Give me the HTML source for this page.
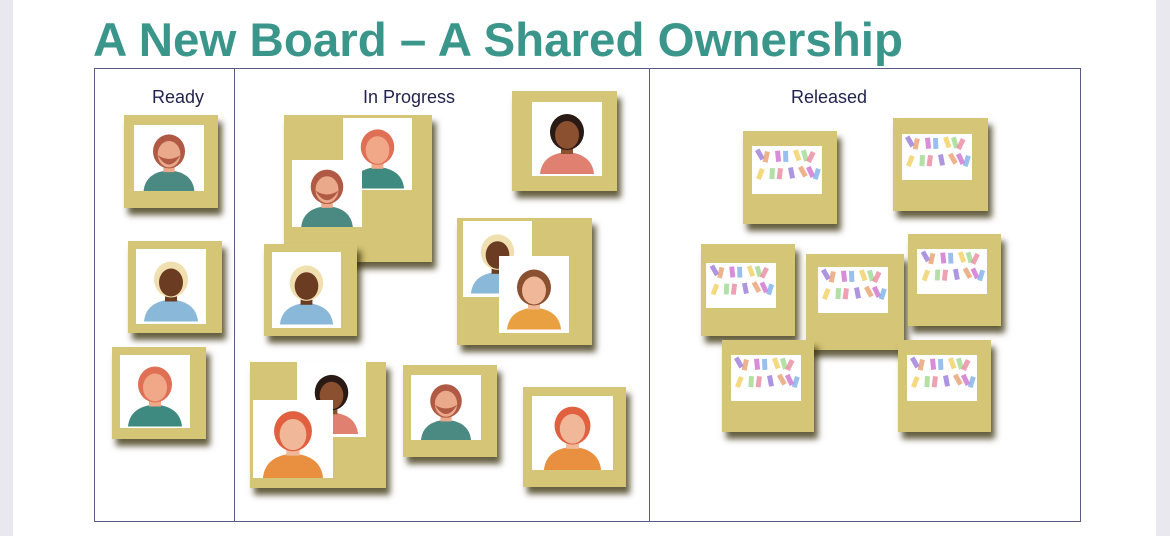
<!DOCTYPE html>
<html><head><meta charset="utf-8"><style>
body{margin:0;width:1170px;height:536px;position:relative;overflow:hidden;background:#fff;font-family:"Liberation Sans",sans-serif}
.strip{position:absolute;top:0;height:536px;background:#e9e8ee}
.board{position:absolute;left:94px;top:68px;width:987px;height:454px;border:1px solid #5a5a85;box-sizing:border-box}
.div{position:absolute;top:68px;width:1px;height:454px;background:#5a5a85}
.hdr{position:absolute;top:87px;font-size:18px;color:#23234f;transform:translateX(-50%)}
.note{position:absolute;background:#d5c576;box-shadow:4px 7px 6px rgba(50,40,0,.75)}
.photo{position:absolute;background:#fff;overflow:hidden}
.photo svg{width:100%;height:100%;display:block}
</style></head><body>
<div class="strip" style="left:0;width:13px"></div>
<div class="strip" style="left:1156px;width:14px"></div>
<svg style="position:absolute;left:0;top:0" width="1170" height="68"><text x="93" y="56" font-family="Liberation Sans" font-weight="bold" font-size="47" fill="#3a968a" textLength="810" lengthAdjust="spacingAndGlyphs">A New Board – A Shared Ownership</text></svg>
<div class="board"></div>
<div class="div" style="left:234px"></div>
<div class="div" style="left:649px"></div>
<div class="hdr" style="left:178px">Ready</div>
<div class="hdr" style="left:409px">In Progress</div>
<div class="hdr" style="left:829px">Released</div>
<div id="notes"></div>
<script>
const notes=[
 [124,115,94,93,[[134,125,70,66,'a']]],
 [128,241,94,92,[[136,249,70,75,'b']]],
 [112,347,94,92,[[120,355,70,73,'c']]],
 [284,115,148,147,[[343,118,69,72,'c'],[292,160,70,67,'a']]],
 [512,91,105,100,[[532,102,70,74,'d']]],
 [264,244,93,92,[[272,252,69,76,'b']]],
 [457,218,135,127,[[463,221,69,76,'b'],[499,256,70,77,'e']]],
 [250,362,136,126,[[297,362,69,75,'d'],[253,400,80,78,'f']]],
 [403,365,94,92,[[411,375,70,65,'a']]],
 [523,387,103,100,[[532,396,81,74,'f']]],
 [743,131,94,93,[[752,146,70,48,'p']]],
 [893,118,95,93,[[902,134,70,46,'p']]],
 [701,244,94,92,[[706,263,70,45,'p']]],
 [806,254,98,96,[[818,267,70,46,'p']]],
 [908,234,93,92,[[917,249,70,45,'p']]],
 [722,340,92,92,[[731,355,70,46,'p']]],
 [898,340,93,92,[[907,355,70,46,'p']]]
];
const av={
 a:['#b05a45','#e9a98a','#4b8a82',true],
 b:['#f0e0b0','#6b3b22','#8ab8d8',false],
 c:['#e07055','#f0a888','#3e8a80',false],
 d:['#2a1a15','#8a5030','#e08070',false],
 e:['#8a5030','#f0b898','#e8a040',false],
 f:['#e06040','#f0b898','#e89040',false]
};
function svgFor(k){
 if(k==='p'){let s='<svg viewBox="0 0 70 46">';const cols=['#9a7ad8','#e88aa0','#a0d890','#f0d060','#80b0e8','#d070d0','#e8a070'];
  for(let i=0;i<14;i++){const c=cols[i%7];const x=(i*23)%64+3,y=(i*17)%34+4;s+=`<rect x="${x}" y="${y}" width="5" height="11" fill="${c}" opacity=".8" transform="rotate(${(i*37)%60-30} ${x} ${y})"/>`;}
  return s+'</svg>';}
 const [h,sk,sh,beard]=av[k];
 return `<svg viewBox="0 0 70 70"><path d="M8 70 Q10 50 35 48 Q60 50 62 70Z" fill="${sh}"/><rect x="29" y="38" width="12" height="12" fill="${sk}"/><ellipse cx="35" cy="28" rx="17" ry="18" fill="${h}"/><ellipse cx="35" cy="31" rx="12" ry="14" fill="${sk}"/>${beard?`<path d="M23 32 Q35 52 47 32 Q35 40 23 32Z" fill="${h}"/>`:''}</svg>`;
}
const root=document.getElementById('notes');
notes.forEach((n,i)=>{
 const d=document.createElement('div');d.className='note';
 
 
 d.style.cssText=`left:${n[0]}px;top:${n[1]}px;width:${n[2]}px;height:${n[3]}px`;
 root.appendChild(d);
 n[4].forEach(p=>{const e=document.createElement('div');e.className='photo';
  
  
  e.style.cssText=`left:${p[0]}px;top:${p[1]}px;width:${p[2]}px;height:${p[3]}px`;
  e.innerHTML=svgFor(p[4]);root.appendChild(e);});
});
</script>
</body></html>
